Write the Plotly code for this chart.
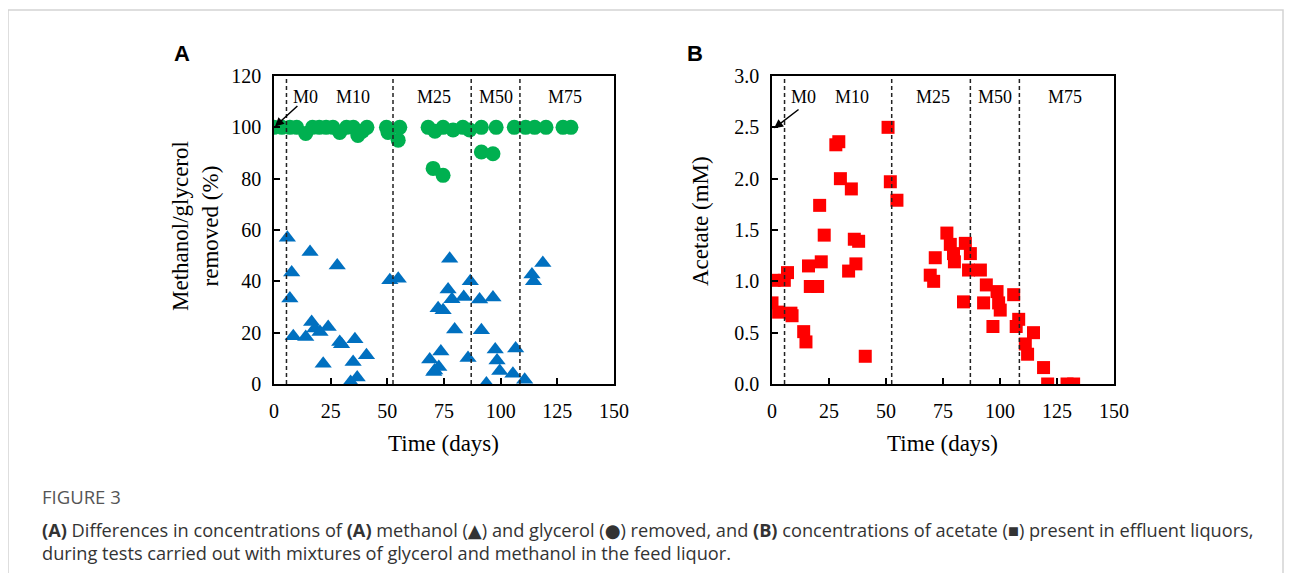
import plotly.graph_objects as go

# ---------------- data ----------------
gly_days = [0, 3.5, 7, 10, 14, 17, 20, 23, 26, 29, 32, 35, 37, 39, 41,
            49.6, 50.3, 54.8, 55.5,
            68, 71, 74.6, 79, 83.3, 86.3, 91.5, 98, 106, 111, 115, 120, 127.5, 131,
            70.2, 74.6, 91.5, 96.6]
gly_vals = [100, 100, 100, 100, 97.6, 100, 100, 100, 100, 98, 100, 100, 96.8, 98.5, 100,
            100, 98, 95, 100,
            100, 98.5, 100, 99, 100, 99, 100, 100, 100, 100, 100, 100, 100, 100,
            84, 81.3, 90.4, 89.7]

meth_days = [5.9, 15.9, 7.8, 27.9, 7.0, 8.5, 14.0, 16.6, 18.0, 20.3, 23.9, 29.0, 29.8,
             35.7, 21.7, 34.9, 40.8, 33.8, 36.7, 51.1, 54.8,
             68.7, 70.9, 72.4, 77.5, 76.8, 78.5, 83.7, 86.6, 90.7, 96.6, 74.6, 79.7,
             91.5, 73.6, 72.7, 70.5, 85.6, 97.6, 98.4, 99.6, 93.7, 106.6, 105.4,
             110.6, 113.8, 114.5, 118.6]
meth_vals = [57, 51.4, 43.4, 46.2, 33.3, 18.6, 18.3, 24.2, 21.6, 20.3, 22.2, 16.4, 15.5,
             17.4, 7.9, 8.6, 11.2, 0.8, 2.5, 40.4, 41,
             9.5, 5.3, 29.5, 48.8, 36.8, 33, 33.9, 40, 32.9, 33.7, 28.7, 21.2,
             20.9, 12.7, 6.6, 4.7, 10.1, 13.4, 9.2, 5.1, 0.2, 13.8, 4,
             1.7, 42.7, 40, 47.1]

ace_days = [0, 1, 2.9, 5.4, 6.8, 8.3, 8.8, 13.9, 14.9, 16, 16.8, 20, 20.9, 21.6, 22.9,
            28, 29.3, 30, 33.6, 34.8, 36.1, 36.8, 38, 40.9, 50.9, 51.9, 54.8,
            69.4, 70.9, 71.6, 76.7, 78.2, 79.6, 80, 84, 84.8, 86.2, 87, 91.4, 92.8,
            94, 96.9, 98.7, 99.4, 100.1, 106, 107.1, 108.2, 111.1, 112.1, 114.7,
            119.1, 120.9, 129.4, 132.3]
ace_vals = [0.79, 1.01, 0.70, 1.01, 1.085, 0.69, 0.665, 0.51, 0.41, 1.15, 0.95, 0.95, 1.74,
            1.19, 1.45, 2.33, 2.36, 2.0, 1.10, 1.9, 1.41, 1.17, 1.39, 0.27, 2.50, 1.97, 1.79,
            1.06, 1.0, 1.23, 1.47, 1.36, 1.27, 1.19, 0.80, 1.37, 1.11, 1.27, 1.11, 0.79,
            0.965, 0.56, 0.90, 0.79, 0.72, 0.87, 0.56, 0.63, 0.39, 0.29, 0.50,
            0.16, 0, 0, 0]

phase_bounds = [5.5, 52.5, 87, 108.5]
phase_labels = ["M0", "M10", "M25", "M50", "M75"]
phase_label_x = [14, 35, 70.5, 97.8, 128.5]

x_ticks = [0, 25, 50, 75, 100, 125, 150]
yA_ticks = [0, 20, 40, 60, 80, 100, 120]
yB_ticks = [0, 0.5, 1.0, 1.5, 2.0, 2.5, 3.0]

# ---------------- figure ----------------
# the page body has an 8px margin, so the figure is sized to end at the window edge
OFF = 8
W, H = 1292 - OFF, 573 - OFF
serif = "Liberation Serif, Times New Roman, serif"
sans = "Liberation Sans, Arial, sans-serif"
cap_font = "Open Sans, Noto Sans, sans-serif"

def px_x(p):
    return (p - OFF) / W

def px_y(p):
    return 1 - (p - OFF) / H

fig = go.Figure()
fig.add_trace(go.Scatter(x=gly_days, y=gly_vals, mode="markers", xaxis="x", yaxis="y",
                         marker=dict(symbol="circle", size=15, color="#00b050"),
                         name="glycerol"))
fig.add_trace(go.Scatter(x=meth_days, y=meth_vals, mode="markers", xaxis="x", yaxis="y",
                         marker=dict(symbol="triangle-up", size=15, color="#0070c0"),
                         name="methanol"))
fig.add_trace(go.Scatter(x=ace_days, y=ace_vals, mode="markers", xaxis="x2", yaxis="y2",
                         marker=dict(symbol="square", size=13, color="#ff0000"),
                         name="acetate"))

axis_common = dict(showline=True, linecolor="black", linewidth=1.5, mirror=True,
                   ticks="inside", ticklen=6, tickwidth=1.5, tickcolor="black",
                   showgrid=False, zeroline=False, automargin=False,
                   tickfont=dict(family=serif, size=20, color="black"))

yA_dom = [px_y(384), px_y(76)]
fig.update_layout(
    width=W, height=H, margin=dict(l=0, r=0, t=0, b=0, autoexpand=False),
    paper_bgcolor="white", plot_bgcolor="white", showlegend=False,
    xaxis=dict(domain=[px_x(274), px_x(614)], range=[0, 150], tickvals=x_ticks,
               anchor="y", ticklabelstandoff=8, **axis_common),
    yaxis=dict(domain=yA_dom, range=[0, 120], tickvals=yA_ticks, anchor="x",
               ticklabelstandoff=7, **axis_common),
    xaxis2=dict(domain=[px_x(772), px_x(1114)], range=[0, 150], tickvals=x_ticks,
                anchor="y2", ticklabelstandoff=8, **axis_common),
    yaxis2=dict(domain=yA_dom, range=[0, 3.0], tickvals=yB_ticks, tickformat=".1f",
                anchor="x2", ticklabelstandoff=7, **axis_common),
)

shapes = []
for xr, yr in [("x", "y domain"), ("x2", "y2 domain")]:
    for b in phase_bounds:
        shapes.append(dict(type="line", xref=xr, yref=yr, x0=b, x1=b, y0=0, y1=1,
                           line=dict(color="#222222", width=1.5, dash="4px,3px")))
# outer frame
shapes.append(dict(type="rect", xref="paper", yref="paper", x0=px_x(8), x1=px_x(1283),
                   y0=-0.1, y1=px_y(10), line=dict(color="#d3d3d3", width=1.5)))
fig.update_layout(shapes=shapes)

def text_ann(x, y, text, font, **kw):
    d = dict(x=x, y=y, text=text, showarrow=False, xanchor="center", yanchor="middle",
             font=font)
    d.update(kw)
    return d

ann = []
for xr, yr, ylab in [("x", "y", 111.8), ("x2", "y2", 2.795)]:
    for lab, lx in zip(phase_labels, phase_label_x):
        ann.append(text_ann(lx, ylab, lab, dict(family=serif, size=18, color="black"),
                            xref=xr, yref=yr))
# arrows
ann.append(dict(x=0.4, y=100.3, xref="x", yref="y", ax=24, ay=-22, text="",
                showarrow=True, arrowhead=2, arrowsize=1.2, arrowwidth=1.5,
                arrowcolor="black", standoff=0))
ann.append(dict(x=0.9, y=2.49, xref="x2", yref="y2", ax=26, ay=-20, text="",
                showarrow=True, arrowhead=2, arrowsize=1.2, arrowwidth=1.5,
                arrowcolor="black", standoff=0))
P = dict(xref="paper", yref="paper")
# panel letters
ann.append(text_ann(px_x(182), px_y(53), "<b>A</b>", dict(family=sans, size=22, color="black"), **P))
ann.append(text_ann(px_x(695), px_y(53), "<b>B</b>", dict(family=sans, size=22, color="black"), **P))
# axis titles
tfont = dict(family=serif, size=23, color="black")
ann.append(text_ann(px_x(443), px_y(443), "Time (days)", tfont, **P))
ann.append(text_ann(px_x(942), px_y(443), "Time (days)", tfont, **P))
ann.append(text_ann(px_x(195), px_y(226), "Methanol/glycerol<br>removed (%)", tfont,
                    textangle=-90, **P))
ann.append(text_ann(px_x(700), px_y(221), "Acetate (mM)", tfont, textangle=-90, **P))
# caption
cfont = dict(family=cap_font, size=18.2, color="#333333")
dot = '<span style="font-family:DejaVu Sans">●</span>'
tri = '<span style="font-family:DejaVu Sans">▲</span>'
ann.append(text_ann(px_x(40), px_y(497), "FIGURE 3",
                    dict(family=cap_font, size=18.5, color="#555555"), xanchor="left", **P))
ann.append(text_ann(px_x(40), px_y(530),
                    "<b>(A)</b> Differences in concentrations of <b>(A)</b> methanol (" + tri
                    + ") and glycerol (" + dot
                    + ") removed, and <b>(B)</b> concentrations of acetate (■) present in effluent liquors,",
                    cfont, xanchor="left", **P))
ann.append(text_ann(px_x(40), px_y(553),
                    "during tests carried out with mixtures of glycerol and methanol in the feed liquor.",
                    cfont, xanchor="left", **P))
fig.update_layout(annotations=ann)

fig.write_html("out.html")
